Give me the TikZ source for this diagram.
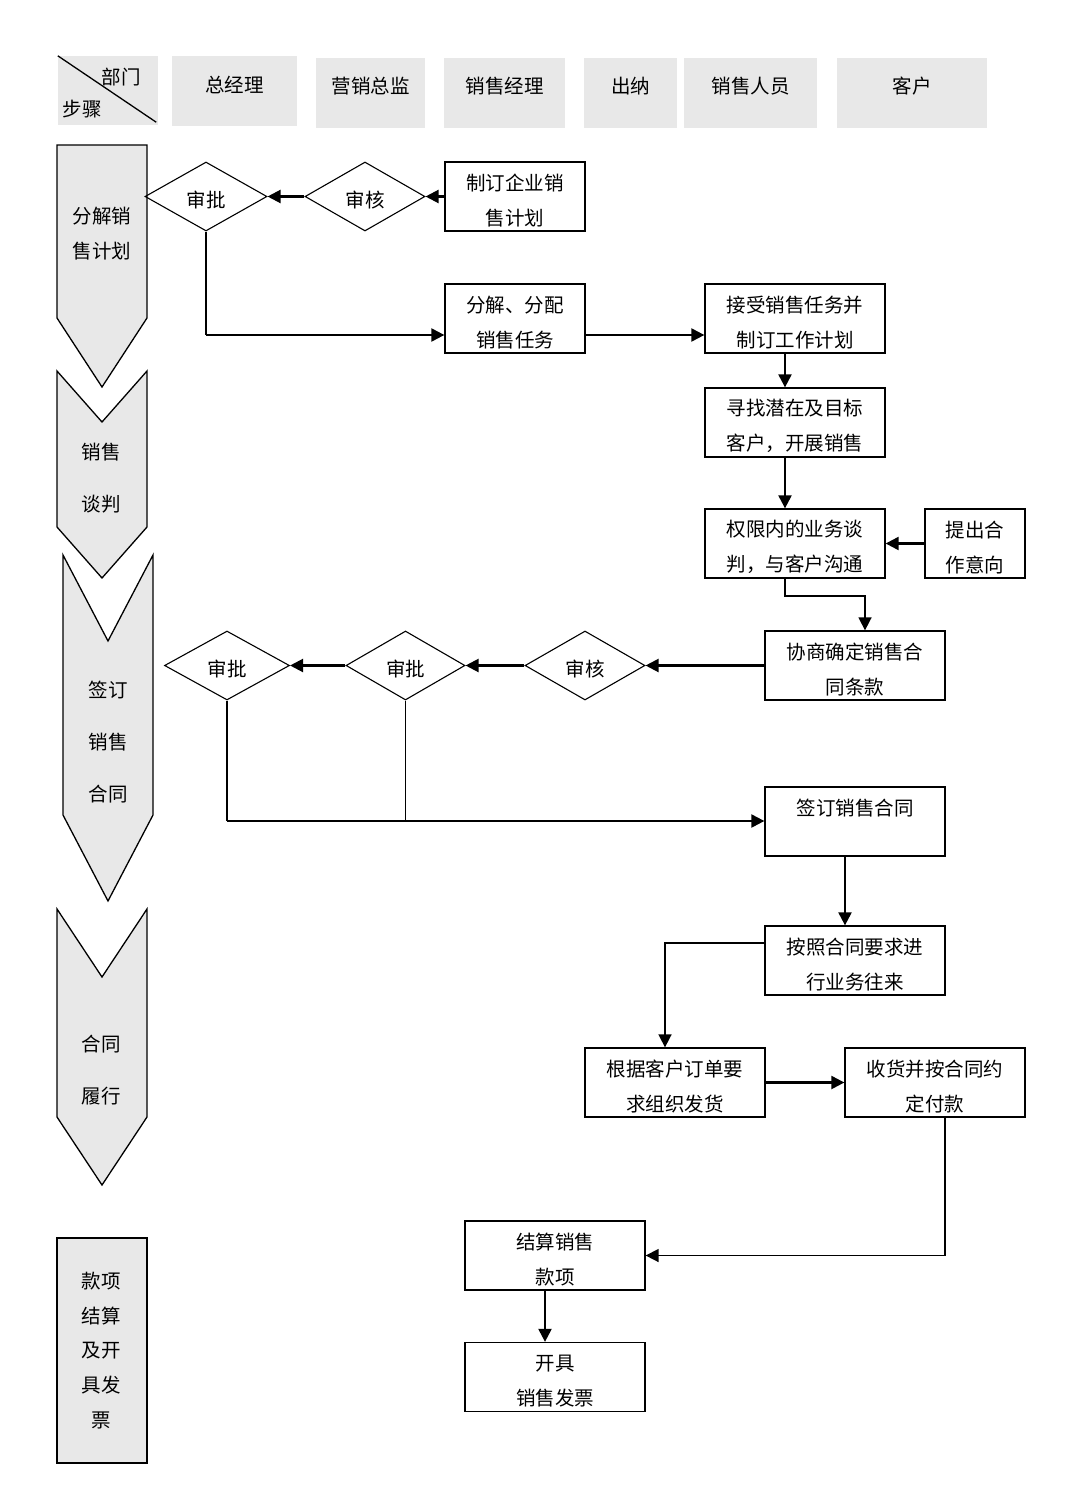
\documentclass[tikz,border=0pt]{standalone}
\usepackage{fontspec}
\setmainfont{Noto Sans CJK SC}
\usetikzlibrary{shapes.geometric,arrows.meta}
\definecolor{hgray}{HTML}{E8E8E8}
\newcommand{\dn}{\rule{0pt}{24pt}}
\tikzset{
  txt/.style={font=\fontsize{19.5}{35}\selectfont, align=center, inner sep=0pt},
  hbox/.style={fill=hgray, draw=none, inner sep=0pt, font=\fontsize{19.5}{35}\selectfont},
  pbox/.style={draw, line width=1.3pt, fill=white, inner sep=0pt, align=center,
               font=\fontsize{19.5}{35}\selectfont, minimum height=69pt},
  dia/.style={diamond, draw, line width=1.1pt, inner sep=0pt, aspect=1.77,
              minimum width=122pt, minimum height=69pt, font=\fontsize{19.5}{35}\selectfont},
  chev/.style={fill=hgray, draw, line width=1.3pt, line join=miter},
  arr/.style={line width=2.2pt, -{Triangle[length=13pt,width=13pt]}},
  ln/.style={line width=1.2pt}
}
\begin{document}
\begin{tikzpicture}[x=1pt,y=-1pt]
\useasboundingbox (0,0) rectangle (1089,1504);

% header
\node[hbox, minimum width=100pt, minimum height=69pt] (h0) at (108,90.5) {};
\draw[line width=1.3pt] (h0.north west) -- ([xshift=-2pt,yshift=3pt]h0.south east);
\node[txt] (h0a) at (121,77) {部门};
\node[txt] (h0b) at (82,109) {步骤};
\node[hbox, minimum width=125pt, minimum height=70pt, label={[txt,yshift=6pt]center:总经理}] (h1) at (234.5,91) {};
\node[hbox, minimum width=109pt, minimum height=70pt, label={[txt,yshift=7pt]center:营销总监}] (h2) at (370.5,93) {};
\node[hbox, minimum width=121pt, minimum height=70pt, label={[txt,yshift=7pt]center:销售经理}] (h3) at (504.5,93) {};
\node[hbox, minimum width=93pt, minimum height=70pt, label={[txt,yshift=7pt]center:出纳}] (h4) at (630.5,93) {};
\node[hbox, minimum width=133pt, minimum height=70pt, label={[txt,yshift=7pt]center:销售人员}] (h5) at (750.5,93) {};
\node[hbox, minimum width=150pt, minimum height=70pt, label={[txt,yshift=7pt]center:客户}] (h6) at (912,93) {};

% left step chevrons
\draw[chev] (57,145) -- (147,145) -- (147,318) -- (102,387) -- (57,318) -- cycle;
\node[txt] (s1) at (102,233.5) {分解销\\售计划};
\draw[chev] (57,371) -- (102,422) -- (147,371) -- (147,527) -- (102,578) -- (57,527) -- cycle;
\node[txt, font=\fontsize{19.5}{52}\selectfont] (s2) at (101,478) {销售\\谈判};
\draw[chev] (63,555) -- (108,641) -- (153,555) -- (153,815) -- (108,901) -- (63,815) -- cycle;
\node[txt, font=\fontsize{19.5}{52}\selectfont] (s3) at (108,742) {签订\\销售\\合同};
\draw[chev] (57,909) -- (102,977) -- (147,909) -- (147,1117) -- (102,1185) -- (57,1117) -- cycle;
\node[txt, font=\fontsize{19.5}{52}\selectfont] (s4) at (101,1070) {合同\\履行};
\draw[chev] (57,1238) rectangle (147,1463);
\node[txt, font=\fontsize{19.5}{34.8}\selectfont] (s5) at (101,1350.5) {款项\\结算\\及开\\具发\\票};

% process boxes
\node[pbox, minimum width=140pt] (b1) at (515,196.5) {\dn{}制订企业销\\售计划};
\node[pbox, minimum width=140pt] (b2) at (515,318.5) {\dn{}分解、分配\\销售任务};
\node[pbox, minimum width=180pt] (b3) at (795,318.5) {\dn{}接受销售任务并\\制订工作计划};
\node[pbox, minimum width=180pt] (b4) at (795,422.5) {\dn{}寻找潜在及目标\\客户，开展销售};
\node[pbox, minimum width=180pt] (b5) at (795,543.5) {\dn{}权限内的业务谈\\判，与客户沟通};
\node[pbox, minimum width=100pt] (b6) at (975,543.5) {\dn{}提出合\\作意向};
\node[pbox, minimum width=180pt] (b7) at (855,665.5) {\dn{}协商确定销售合\\同条款};
\node[pbox, minimum width=180pt] (b8) at (855,821.5) {\dn{}签订销售合同\\\phantom{签}};
\node[pbox, minimum width=180pt] (b9) at (855,960.5) {\dn{}按照合同要求进\\行业务往来};
\node[pbox, minimum width=180pt] (b10) at (675,1082.5) {\dn{}根据客户订单要\\求组织发货};
\node[pbox, minimum width=180pt] (b11) at (935,1082.5) {\dn{}收货并按合同约\\定付款};
\node[pbox, minimum width=180pt] (b12) at (555,1255.5) {\dn{}结算销售\\款项};
\node[pbox, minimum width=180pt] (b13) at (555,1377) {\dn{}开具\\销售发票};

% diamonds
\node[dia] (d1) at (206,196.5) {\dn{}审批};
\node[dia, minimum width=120pt] (d0) at (365,196.5) {\dn{}审核};
\node[dia, minimum width=125pt] (d2) at (227,665.5) {\dn{}审批};
\node[dia, minimum width=119pt] (d3) at (405.5,665.5) {\dn{}审批};
\node[dia, minimum width=120pt] (d4) at (585,665.5) {\dn{}审核};

% junction points
\coordinate (j1) at (865,596);
\coordinate (j2) at (227,821);

% connectors
\draw[arr] (b1.west) -- (d0.east);
\draw[arr] (d0.west) -- (d1.east);
\draw[ln] (d1.south) -- (d1.south |- 0,335);
\draw[arr] (d1.south |- 0,335) -- ([yshift=-16.5pt]b2.west);
\draw[arr] ([yshift=-16.5pt]b2.east) -- ([yshift=-16.5pt]b3.west);
\draw[arr] ([xshift=-10pt]b3.south) -- ([xshift=-10pt]b4.north);
\draw[arr] ([xshift=-10pt]b4.south) -- ([xshift=-10pt]b5.north);
\draw[arr] (b6.west) -- (b5.east);
\draw[arr, line width=1.6pt] ([xshift=-10pt]b5.south) |- (j1) -- ([xshift=10pt]b7.north);
\draw[arr] (b7.west) -- (d4.east);
\draw[arr] (d4.west) -- (d3.east);
\draw[arr] (d3.west) -- (d2.east);
\draw[ln] (d2.south) -- (j2);
\draw[ln] (d3.south) -- (d3.south |- j2);
\draw[arr] (j2) -- (j2 -| b8.west);
\draw[arr] ([xshift=-10pt]b8.south) -- ([xshift=-10pt]b9.north);
\draw[arr, line width=1.6pt] ([yshift=17.5pt]b9.west) -| ([xshift=-10pt]b10.north);
\draw[arr] (b10.east) -- (b11.west);
\draw[arr, line width=1.6pt] ([xshift=10pt]b11.south) |- (b12.east);
\draw[arr] ([xshift=-10pt]b12.south) -- ([xshift=-10pt]b13.north);
\end{tikzpicture}
\end{document}
